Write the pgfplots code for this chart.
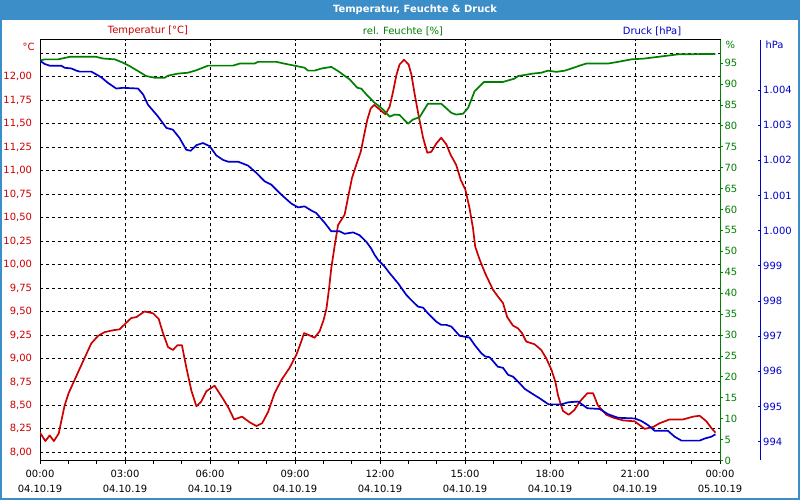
\documentclass[border=0pt]{standalone}
\usepackage{fontspec}
\setmainfont{DejaVu Sans}
\usepackage{pgfplots}
\usepackage{pgfplotstable}
\pgfplotsset{compat=1.18}

\definecolor{tempred}{RGB}{204,0,0}
\definecolor{humgreen}{RGB}{0,128,0}
\definecolor{presblue}{RGB}{0,0,204}
\definecolor{framebl}{RGB}{60,142,200}

% Temperatur [°C] over hours since 00:00
\pgfplotstableread{
h T
0.00 8.21
0.19 8.12
0.34 8.18
0.49 8.12
0.66 8.20
0.75 8.33
0.87 8.50
1.01 8.63
1.22 8.77
1.46 8.93
1.81 9.16
2.05 9.24
2.28 9.28
2.58 9.30
2.81 9.31
3.01 9.37
3.22 9.43
3.40 9.44
3.69 9.50
3.99 9.48
4.19 9.42
4.34 9.27
4.52 9.12
4.69 9.09
4.85 9.14
5.01 9.14
5.16 8.91
5.34 8.66
5.52 8.49
5.69 8.54
5.87 8.65
6.16 8.71
6.46 8.57
6.66 8.47
6.85 8.35
7.13 8.38
7.40 8.32
7.64 8.28
7.84 8.31
8.05 8.43
8.28 8.63
8.52 8.77
8.81 8.90
9.05 9.04
9.22 9.18
9.32 9.27
9.48 9.25
9.69 9.22
9.87 9.29
10.01 9.41
10.11 9.53
10.20 9.74
10.28 9.96
10.40 10.20
10.52 10.42
10.75 10.53
10.89 10.74
11.01 10.92
11.16 11.06
11.32 11.20
11.44 11.38
11.55 11.54
11.67 11.66
11.79 11.70
11.99 11.65
12.19 11.60
12.34 11.68
12.46 11.84
12.58 12.02
12.69 12.13
12.85 12.18
13.01 12.13
13.11 12.02
13.22 11.82
13.36 11.59
13.52 11.35
13.67 11.19
13.81 11.20
13.99 11.29
14.16 11.35
14.34 11.28
14.49 11.17
14.69 11.06
14.85 10.90
15.01 10.80
15.16 10.60
15.28 10.39
15.36 10.19
15.52 10.05
15.72 9.90
15.99 9.73
16.16 9.66
16.34 9.59
16.49 9.44
16.69 9.35
16.87 9.32
17.01 9.27
17.16 9.18
17.46 9.15
17.69 9.09
17.87 9.00
18.05 8.88
18.19 8.75
18.28 8.61
18.38 8.51
18.46 8.44
18.66 8.40
18.86 8.45
19.05 8.54
19.32 8.63
19.52 8.63
19.69 8.50
19.99 8.40
20.22 8.37
20.58 8.34
20.99 8.33
21.34 8.25
21.64 8.27
21.87 8.31
22.22 8.35
22.69 8.35
23.05 8.38
23.28 8.39
23.52 8.33
23.69 8.26
23.84 8.21
}\temptable

% rel. Feuchte [%]
\pgfplotstableread{
h H
0.00 95.6
0.16 95.9
0.64 95.9
1.05 96.5
1.99 96.5
2.22 96.1
2.64 95.9
2.93 95.1
3.16 94.3
3.46 93.1
3.75 91.9
4.05 91.5
4.40 91.5
4.52 92.0
4.87 92.5
5.22 92.7
5.52 93.3
5.93 94.4
6.81 94.4
7.05 94.9
7.58 94.9
7.69 95.3
8.34 95.3
8.75 94.7
9.05 94.3
9.34 93.9
9.46 93.2
9.69 93.2
9.93 93.7
10.28 94.1
10.52 93.1
10.93 91.1
11.20 89.1
11.34 88.9
11.52 87.5
11.81 85.5
11.93 84.9
12.11 83.9
12.34 82.2
12.52 82.7
12.69 82.6
12.99 80.5
13.16 81.5
13.40 82.1
13.69 85.3
14.16 85.3
14.52 83.1
14.69 82.7
14.93 82.9
15.11 84.3
15.34 88.3
15.67 90.5
16.34 90.5
16.75 91.3
16.87 91.9
17.40 92.5
17.69 92.7
17.93 93.2
18.22 92.9
18.52 93.2
18.75 93.7
19.05 94.4
19.28 94.9
20.05 94.9
20.40 95.3
20.87 95.9
21.34 96.1
21.81 96.5
22.52 97.1
23.84 97.2
}\humtable

% Druck [hPa]
\pgfplotstableread{
h P
0.00 1004.83
0.16 1004.74
0.34 1004.69
0.75 1004.69
0.87 1004.63
1.11 1004.61
1.28 1004.55
1.40 1004.52
1.81 1004.52
1.99 1004.44
2.16 1004.36
2.40 1004.20
2.69 1004.04
2.93 1004.06
3.46 1004.04
3.64 1003.87
3.81 1003.58
4.16 1003.25
4.46 1002.92
4.69 1002.87
4.92 1002.64
5.16 1002.30
5.32 1002.27
5.52 1002.43
5.75 1002.49
5.99 1002.40
6.22 1002.14
6.46 1002.01
6.64 1001.96
6.99 1001.96
7.34 1001.85
7.64 1001.64
7.93 1001.40
8.16 1001.31
8.52 1001.02
8.87 1000.77
9.11 1000.66
9.34 1000.69
9.58 1000.57
9.75 1000.50
10.05 1000.22
10.28 999.98
10.58 999.98
10.75 999.91
11.05 999.95
11.28 999.87
11.52 999.68
11.69 999.49
11.81 999.31
11.93 999.17
12.16 998.98
12.34 998.79
12.64 998.50
12.93 998.17
13.16 997.98
13.34 997.84
13.52 997.81
13.69 997.65
13.99 997.41
14.16 997.32
14.34 997.32
14.52 997.27
14.81 997.01
15.16 996.96
15.34 996.75
15.58 996.51
15.72 996.42
15.87 996.40
16.16 996.13
16.34 996.10
16.52 995.90
16.69 995.85
16.87 995.71
17.11 995.50
17.40 995.35
17.64 995.23
17.95 995.06
18.40 995.06
18.64 995.12
18.99 995.14
19.32 994.95
19.75 994.93
20.05 994.78
20.40 994.68
20.99 994.66
21.22 994.59
21.46 994.47
21.69 994.31
22.16 994.31
22.40 994.14
22.64 994.03
23.28 994.03
23.46 994.09
23.69 994.14
23.84 994.21
}\prestable

\pgfplotsset{
  base/.style={
    at={(40bp,39.5bp)}, anchor=south west, scale only axis,
    width=680bp, height=420.5bp, xmin=0, xmax=24,
    tick label style={font=\fontsize{10}{12}\selectfont},
    /pgf/number format/assume math mode=true,
  },
  curve/.style={line width=1.7bp, line join=round},
}

\begin{document}
\begin{tikzpicture}[x=1bp,y=1bp]
\fill[white] (0,0) rectangle (800,500);
\fill[framebl] (0,480) rectangle (800,500);
\draw[framebl, line width=2bp] (1,1) rectangle (799,499);
\useasboundingbox (0,0) rectangle (800,500);

\node[white, font=\bfseries\fontsize{10}{12}\selectfont] at (415,490) {Temperatur, Feuchte \& Druck};
\node[tempred, font=\fontsize{10}{12}\selectfont] at (148,469) {Temperatur [°C]};
\node[humgreen, font=\fontsize{10}{12}\selectfont] at (403,469) {rel. Feuchte [\%]};
\node[presblue, font=\fontsize{10}{12}\selectfont] at (652,469) {Druck [hPa]};
\node[tempred, anchor=east, font=\fontsize{10}{12}\selectfont] at (38,453) {°C};
\node[humgreen, anchor=west, font=\fontsize{10}{12}\selectfont] at (722,455) {\%};
\node[presblue, anchor=west, font=\fontsize{10}{12}\selectfont] at (762,455) {hPa};

% temperature axis with grid
\begin{axis}[base,
  ymin=7.913, ymax=12.391,
  ytick={8,8.25,...,12}, extra y ticks={12.25}, extra y tick labels={},
  extra y tick style={grid=major},
  xtick={0,3,...,24}, minor xtick={1,...,23},
  xmajorgrids, ymajorgrids,
  grid style={black, line width=0.8bp, dash pattern=on 3bp off 3bp},
  xtick pos=bottom, ytick pos=left,
  tick align=outside, major tick length=3.5bp, minor tick length=3.5bp,
  tick style={black, line width=0.8bp},
  y tick style={draw=none},
  axis line style={black, line width=1bp},
  xticklabels={{00:00\\04.10.19},{03:00\\04.10.19},{06:00\\04.10.19},{09:00\\04.10.19},{12:00\\04.10.19},{15:00\\04.10.19},{18:00\\04.10.19},{21:00\\04.10.19},{00:00\\05.10.19}},
  x tick label style={align=center, font=\fontsize{10}{15}\selectfont, black, yshift=-3bp},
  y tick label style={tempred, xshift=-1bp, /pgf/number format/fixed, /pgf/number format/fixed zerofill, /pgf/number format/precision=2, /pgf/number format/use comma},
]
\addplot[curve, tempred] table[x=h, y=T] {\temptable};
\end{axis}

% humidity axis
\begin{axis}[base,
  ymin=0, ymax=100.53,
  hide x axis, axis y line*=right,
  ytick={0,5,...,95},
  tick align=outside, major tick length=3bp,
  y axis line style={humgreen, line width=1bp},
  ytick style={humgreen, line width=0.8bp},
  y tick label style={humgreen, xshift=-2bp},
]
\addplot[curve, humgreen] table[x=h, y=H] {\humtable};
\end{axis}

% pressure axis, placed further right
\begin{axis}[base,
  width=720.7bp, xmax=25.436,
  ymin=993.465, ymax=1005.42,
  hide x axis, axis y line*=right,
  ytick={994,...,1004},
  tick align=inside, major tick length=3bp,
  y axis line style={presblue, line width=1bp},
  ytick style={presblue, line width=0.8bp},
  y tick label style={presblue, xshift=-1bp, /pgf/number format/fixed, /pgf/number format/precision=0, /pgf/number format/1000 sep={.}},
]
\addplot[curve, presblue] table[x=h, y=P] {\prestable};
\end{axis}
\end{tikzpicture}
\end{document}
